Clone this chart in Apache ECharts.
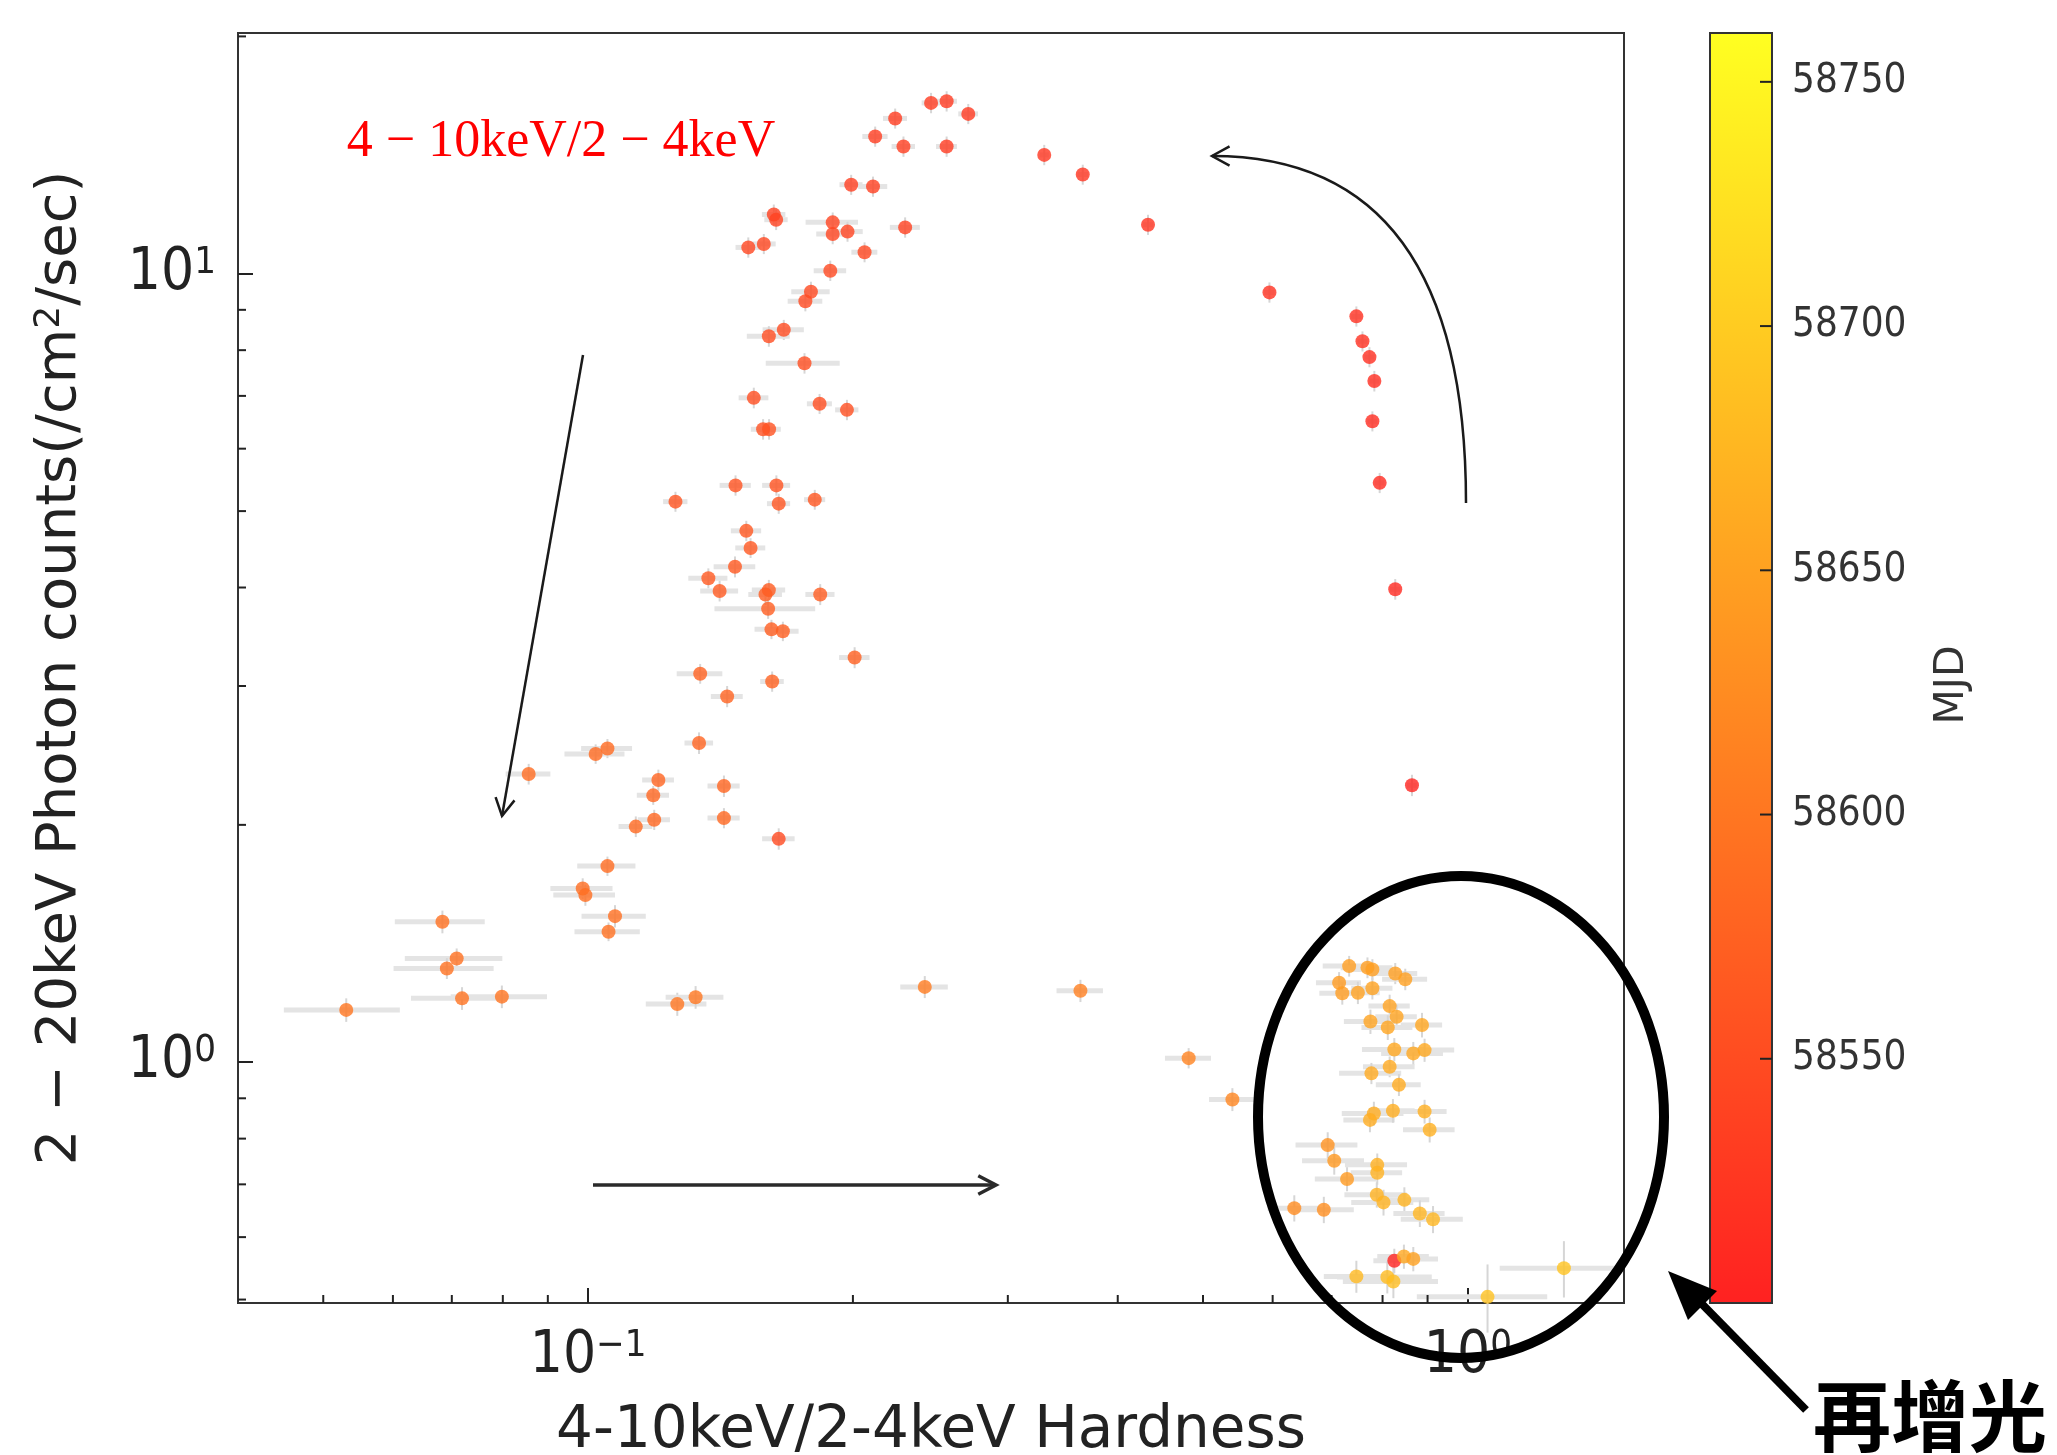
<!DOCTYPE html>
<html>
<head>
<meta charset="utf-8">
<script src="https://cdn.jsdelivr.net/npm/echarts@6.0.0/dist/echarts.min.js"></script>
<style>
  html, body { margin: 0; padding: 0; background: #fff; }
  #chart { width: 2057px; height: 1455px; }
</style>
</head>
<body>
<div id="chart"></div>
<script>
// ---- data (hardness ratio, photon counts, errors, MJD) ----
// order: rise in hard state, peak, soft decay, low soft, transition, re-brightening
const hardness = [
  0.864, 0.827, 0.794, 0.779, 0.783, 0.773, 0.759, 0.747, 0.595, 0.433, 0.365, 0.330,
  0.2705, 0.2556, 0.2454, 0.2556, 0.2234, 0.2120, 0.2283, 0.1991, 0.2108, 0.2293, 0.1626, 0.1636, 0.1897, 0.1972,
  0.1897, 0.1521, 0.1584, 0.2062, 0.1885, 0.1792, 0.1766, 0.1669, 0.1605, 0.1762, 0.1543, 0.1833, 0.1969, 0.1581, 0.1606,
  0.1471, 0.1637, 0.1257, 0.1647, 0.1810, 0.1513, 0.1530, 0.1469, 0.1370, 0.1411, 0.1605, 0.1591, 0.1836, 0.1602,
  0.1616, 0.1665, 0.2009, 0.1341, 0.1619, 0.1439, 0.1337, 0.1202, 0.1427, 0.1186, 0.1189, 0.1427, 0.1133, 0.1647,
  0.1052, 0.1020, 0.0856, 0.1052, 0.0986, 0.0993, 0.1073, 0.1055, 0.0683, 0.0709, 0.0691, 0.0719, 0.0798, 0.0531, 0.1263, 0.1325,
  0.2414, 0.3628, 0.4816, 0.540,
  0.733, 0.769, 0.779, 0.827, 0.849, 0.714, 0.720, 0.750, 0.779, 0.815, 0.830, 0.775, 0.811, 0.887, 0.825,
  0.867, 0.893, 0.815, 0.777, 0.835, 0.782, 0.774, 0.822, 0.893, 0.905, 0.693, 0.705, 0.789, 0.789, 0.729,
  0.788, 0.802, 0.847, 0.635, 0.686, 0.882, 0.913, 0.825, 0.846, 0.867, 0.747, 0.810, 0.823, 1.286, 1.053
];
const counts = [
  2.245, 3.98, 5.43, 6.50, 7.31, 7.84, 8.21, 8.83, 9.47, 11.54, 13.36, 14.15,
  15.95, 16.55, 16.47, 14.50, 15.74, 14.93, 14.50, 12.97, 12.90, 11.45, 11.89, 11.71, 11.62, 11.31,
  11.23, 10.80, 10.91, 10.65, 10.09, 9.49, 9.23, 8.49, 8.33, 7.70, 6.96, 6.84, 6.72, 6.35, 6.35,
  5.39, 5.39, 5.14, 5.11, 5.17, 4.72, 4.49, 4.25, 4.11, 3.96, 3.97, 3.92, 3.92, 3.76,
  3.54, 3.52, 3.26, 3.11, 3.04, 2.91, 2.54, 2.28, 2.24, 2.18, 2.03, 2.04, 1.99, 1.92,
  2.50, 2.46, 2.32, 1.773, 1.661, 1.629, 1.532, 1.464, 1.507, 1.354, 1.315, 1.205, 1.211, 1.165, 1.185, 1.209,
  1.246, 1.232, 1.012, 0.897,
  1.324, 1.318, 1.311, 1.296, 1.274, 1.261, 1.223, 1.225, 1.241, 1.178, 1.142, 1.126, 1.107, 1.115, 1.038,
  1.026, 1.036, 0.987, 0.968, 0.936, 0.861, 0.845, 0.868, 0.866, 0.821, 0.785, 0.750, 0.741, 0.724, 0.711,
  0.679, 0.664, 0.669, 0.653, 0.650, 0.643, 0.632, 0.560, 0.567, 0.563, 0.535, 0.534, 0.527, 0.548, 0.504
];
const hardnessErr = [
  0.011, 0.011, 0.010, 0.010, 0.010, 0.010, 0.010, 0.010, 0.008, 0.006, 0.005, 0.004,
  0.007, 0.007, 0.006, 0.007, 0.007, 0.007, 0.007, 0.006, 0.008, 0.009, 0.005, 0.005, 0.013, 0.008,
  0.008, 0.005, 0.005, 0.007, 0.008, 0.009, 0.008, 0.009, 0.009, 0.017, 0.006, 0.006, 0.006, 0.005, 0.005,
  0.006, 0.006, 0.004, 0.005, 0.005, 0.006, 0.006, 0.008, 0.007, 0.007, 0.007, 0.007, 0.007, 0.021,
  0.007, 0.007, 0.008, 0.008, 0.005, 0.006, 0.005, 0.005, 0.006, 0.005, 0.005, 0.006, 0.005, 0.007,
  0.007, 0.008, 0.005, 0.008, 0.008, 0.008, 0.009, 0.009, 0.008, 0.009, 0.009, 0.009, 0.010, 0.008, 0.010, 0.010,
  0.015, 0.022, 0.029, 0.032,
  0.049, 0.052, 0.042, 0.049, 0.050, 0.042, 0.042, 0.044, 0.042, 0.044, 0.045, 0.052, 0.054, 0.048, 0.067,
  0.070, 0.072, 0.055, 0.063, 0.049, 0.063, 0.052, 0.048, 0.053, 0.061, 0.056, 0.057, 0.064, 0.053, 0.059,
  0.064, 0.065, 0.057, 0.043, 0.056, 0.059, 0.074, 0.044, 0.057, 0.058, 0.061, 0.100, 0.102, 0.199, 0.178
];
const countsErr = [
  0.07, 0.12, 0.16, 0.19, 0.22, 0.23, 0.24, 0.26, 0.28, 0.34, 0.39, 0.42,
  0.47, 0.49, 0.49, 0.43, 0.46, 0.44, 0.43, 0.38, 0.38, 0.34, 0.35, 0.35, 0.34, 0.33,
  0.33, 0.32, 0.32, 0.31, 0.30, 0.28, 0.27, 0.25, 0.25, 0.23, 0.21, 0.20, 0.20, 0.19, 0.19,
  0.16, 0.16, 0.15, 0.15, 0.15, 0.14, 0.13, 0.13, 0.12, 0.12, 0.12, 0.12, 0.12, 0.11,
  0.10, 0.10, 0.10, 0.09, 0.09, 0.09, 0.08, 0.07, 0.07, 0.06, 0.06, 0.06, 0.06, 0.06,
  0.07, 0.07, 0.07, 0.05, 0.05, 0.05, 0.05, 0.04, 0.05, 0.04, 0.04, 0.04, 0.04, 0.04, 0.04, 0.04,
  0.04, 0.04, 0.03, 0.03,
  0.04, 0.04, 0.04, 0.04, 0.04, 0.04, 0.04, 0.04, 0.04, 0.04, 0.04, 0.04, 0.04, 0.04, 0.035,
  0.035, 0.035, 0.03, 0.03, 0.03, 0.03, 0.03, 0.03, 0.03, 0.03, 0.03, 0.03, 0.025, 0.025, 0.025,
  0.025, 0.025, 0.025, 0.025, 0.025, 0.025, 0.025, 0.02, 0.02, 0.02, 0.025, 0.025, 0.025, 0.045, 0.05
];
const mjd = [
  58506, 58509, 58511, 58513, 58514, 58515, 58516, 58517, 58519, 58521, 58523, 58525,
  58528, 58529, 58530, 58531, 58532, 58533, 58534, 58535, 58536, 58537, 58538, 58539, 58540, 58541,
  58542, 58543, 58544, 58545, 58546, 58547, 58548, 58549, 58550, 58551, 58552, 58553, 58554, 58555, 58556,
  58558, 58559, 58560, 58561, 58562, 58563, 58564, 58565, 58566, 58567, 58568, 58569, 58570, 58571,
  58572, 58573, 58574, 58575, 58576, 58577, 58578, 58579, 58580, 58581, 58582, 58583, 58584, 58548,
  58585, 58586, 58587, 58588, 58589, 58590, 58591, 58592, 58593, 58594, 58595, 58596, 58597, 58598, 58600, 58601,
  58606, 58610, 58615, 58618,
  58645, 58646, 58647, 58648, 58649, 58643, 58644, 58650, 58651, 58652, 58653, 58654, 58655, 58656, 58657,
  58658, 58659, 58660, 58661, 58662, 58663, 58664, 58665, 58666, 58667, 58632, 58640, 58668, 58669, 58642,
  58670, 58671, 58672, 58625, 58628, 58673, 58675, 58502, 58658, 58650, 58678, 58682, 58684, 58690, 58688
];

// axis ranges and tick values
const xRange = [0.04, 1.505];
const yRange = [0.495, 20.2];
const mjdRange = [58500, 58760];
const xMinorTicks = [0.05, 0.06, 0.07, 0.08, 0.09, 0.2, 0.3, 0.4, 0.5, 0.6, 0.7, 0.8, 0.9];
const yMinorTicks = [0.5, 0.6, 0.7, 0.8, 0.9, 2, 3, 4, 5, 6, 7, 8, 9, 20];
const cbarTicks = [58550, 58600, 58650, 58700, 58750];
const cmap = ['#ff2121', '#ffff21'];   // autumn colormap (red -> yellow)

const FONT = '"DejaVu Sans", sans-serif';
const FONT_C = '"DejaVu Sans Condensed", "DejaVu Sans", sans-serif';
const INK = '#222';

const chart = echarts.init(document.getElementById('chart'));

// 10^n style labels for the log axes
function powLabel(v) {
  const e = Math.round(Math.log10(v));
  return '{b|10}{s|' + (e < 0 ? '\u2212' + (-e) : e) + '}';
}
const powRich = {
  b: { fontSize: 58, fontFamily: FONT_C, color: INK, lineHeight: 60 },
  s: { fontSize: 38, fontFamily: FONT_C, color: INK, lineHeight: 38, verticalAlign: 'top' }
};

// arrow head as an open "->" polyline
function headPoints(from, tip, len, spread) {
  const a = Math.atan2(tip[1] - from[1], tip[0] - from[0]);
  return [
    [tip[0] - len * Math.cos(a - spread), tip[1] - len * Math.sin(a - spread)],
    tip,
    [tip[0] - len * Math.cos(a + spread), tip[1] - len * Math.sin(a + spread)]
  ];
}

const scatterData = hardness.map((h, i) => [h, counts[i], mjd[i]]);
const errData = hardness.map((h, i) => [h, counts[i], hardnessErr[i], countsErr[i]]);

const option = {
  animation: false,
  backgroundColor: '#fff',
  grid: [
    { left: 238, top: 33, width: 1386, height: 1270, show: true, borderColor: '#333', borderWidth: 2, outerBoundsMode: 'none' },
    { left: 1710, top: 33, width: 62, height: 1270, show: false, outerBoundsMode: 'none' }
  ],
  xAxis: [
    {
      type: 'log', logBase: 10, gridIndex: 0, min: xRange[0], max: xRange[1],
      axisLine: { show: true, onZero: false, lineStyle: { color: '#333', width: 2 } },
      axisTick: { show: true, inside: true, length: 15, lineStyle: { color: INK, width: 2 } },
      axisLabel: { formatter: powLabel, rich: powRich, margin: 24, showMinLabel: false, showMaxLabel: false },
      splitLine: { show: false },
      name: '4-10keV/2-4keV Hardness', nameLocation: 'middle', nameGap: 100,
      nameTextStyle: { fontSize: 58, fontFamily: FONT, color: INK }
    },
    {
      type: 'value', gridIndex: 1, min: 0, max: 1, show: false,
      axisLine: { show: false, onZero: false }
    }
  ],
  yAxis: [
    {
      type: 'log', logBase: 10, gridIndex: 0, min: yRange[0], max: yRange[1],
      axisLine: { show: true, onZero: false, lineStyle: { color: '#333', width: 2 } },
      axisTick: { show: true, inside: true, length: 15, lineStyle: { color: INK, width: 2 } },
      axisLabel: { formatter: powLabel, rich: powRich, margin: 22, showMinLabel: false, showMaxLabel: false },
      splitLine: { show: false },
      name: '2 \u2212 20keV Photon counts(/cm{s|2}/sec)', nameLocation: 'middle', nameGap: 150, nameRotate: 90,
      nameTextStyle: {
        fontSize: 56, fontFamily: FONT, color: INK,
        rich: { s: { fontSize: 36, fontFamily: FONT, color: INK, verticalAlign: 'top', lineHeight: 40 } }
      }
    },
    {
      type: 'value', gridIndex: 1, min: mjdRange[0], max: mjdRange[1], interval: 50, position: 'right',
      axisLine: { show: false, onZero: false },
      axisTick: { show: false },
      axisLabel: {
        margin: 20, fontSize: 40, fontFamily: FONT_C, color: '#333',
        showMinLabel: false, showMaxLabel: false, formatter: v => String(v)
      },
      splitLine: { show: false }
    }
  ],
  visualMap: {
    type: 'continuous', show: false, seriesIndex: 1, dimension: 2,
    min: mjdRange[0], max: mjdRange[1], inRange: { color: cmap }
  },
  series: [
    {
      // x / y error bars
      type: 'custom', xAxisIndex: 0, yAxisIndex: 0, silent: true, z: 2,
      data: errData, encode: { x: 0, y: 1 },
      renderItem: function (params, api) {
        const x = api.value(0), y = api.value(1), xe = api.value(2), ye = api.value(3);
        const l = api.coord([x - xe, y]), r = api.coord([x + xe, y]);
        const b = api.coord([x, y - ye]), t = api.coord([x, y + ye]);
        return {
          type: 'group',
          children: [
            { type: 'line', shape: { x1: l[0], y1: l[1], x2: r[0], y2: r[1] }, style: { stroke: '#e4e4e4', lineWidth: 5 } },
            { type: 'line', shape: { x1: b[0], y1: b[1], x2: t[0], y2: t[1] }, style: { stroke: '#d6d6d6', lineWidth: 2 } }
          ]
        };
      }
    },
    {
      type: 'scatter', xAxisIndex: 0, yAxisIndex: 0, z: 3,
      symbol: 'circle', symbolSize: 14,
      data: scatterData
    },
    {
      // minor ticks on the log x axis (2..9 x 10^n)
      type: 'custom', xAxisIndex: 0, yAxisIndex: 0, silent: true, clip: false, z: 4,
      data: xMinorTicks.map(v => [v, yRange[0]]), encode: { x: 0, y: 1 },
      renderItem: function (params, api) {
        const p = api.coord([api.value(0), api.value(1)]);
        const yb = params.coordSys.y + params.coordSys.height;
        return { type: 'line', shape: { x1: p[0], y1: yb, x2: p[0], y2: yb - 8 }, style: { stroke: INK, lineWidth: 2 } };
      }
    },
    {
      // minor ticks on the log y axis
      type: 'custom', xAxisIndex: 0, yAxisIndex: 0, silent: true, clip: false, z: 4,
      data: yMinorTicks.map(v => [xRange[0], v]), encode: { x: 0, y: 1 },
      renderItem: function (params, api) {
        const p = api.coord([api.value(0), api.value(1)]);
        const xl = params.coordSys.x;
        return { type: 'line', shape: { x1: xl, y1: p[1], x2: xl + 8, y2: p[1] }, style: { stroke: INK, lineWidth: 2 } };
      }
    },
    {
      // colour bar with its inside ticks on the right edge
      type: 'custom', xAxisIndex: 1, yAxisIndex: 1, silent: true, clip: false, z: 1,
      data: [[0, mjdRange[0], 1, mjdRange[1]]], encode: { x: [0, 2], y: [1, 3] },
      renderItem: function (params, api) {
        const p0 = api.coord([api.value(0), api.value(3)]);
        const p1 = api.coord([api.value(2), api.value(1)]);
        const x0 = Math.min(p0[0], p1[0]), x1 = Math.max(p0[0], p1[0]);
        const y0 = Math.min(p0[1], p1[1]), y1 = Math.max(p0[1], p1[1]);
        const children = [{
          type: 'rect',
          shape: { x: x0, y: y0, width: x1 - x0, height: y1 - y0 },
          style: {
            fill: new echarts.graphic.LinearGradient(0, 0, 0, 1, [
              { offset: 0, color: cmap[1] }, { offset: 1, color: cmap[0] }
            ]),
            stroke: '#333', lineWidth: 2
          }
        }];
        cbarTicks.forEach(v => {
          const ty = api.coord([api.value(0), v])[1];
          children.push({ type: 'line', shape: { x1: x1 - 12, y1: ty, x2: x1, y2: ty }, style: { stroke: INK, lineWidth: 2 } });
        });
        return { type: 'group', children: children };
      }
    }
  ],
  graphic: {
    elements: [
      {
        type: 'text', x: 1952, y: 685, rotation: Math.PI / 2, z: 100,
        style: { text: 'MJD', fontSize: 41, fontFamily: FONT, fill: '#333', align: 'center', verticalAlign: 'middle' }
      },
      {
        type: 'text', x: 561, y: 142, z: 100,
        style: { text: '4 \u2212 10keV/2 \u2212 4keV', fontSize: 52, fontFamily: '"Liberation Serif", serif', fill: '#ff0000', align: 'center', verticalAlign: 'middle' }
      },
      // decay arrow
      { type: 'line', z: 100, shape: { x1: 583, y1: 355, x2: 502, y2: 816 }, style: { stroke: '#1a1a1a', lineWidth: 2.5 } },
      { type: 'polyline', z: 100, shape: { points: headPoints([583, 355], [502, 816], 20, 0.5) }, style: { stroke: '#1a1a1a', lineWidth: 2.5, fill: 'none' } },
      // horizontal arrow
      { type: 'line', z: 100, shape: { x1: 593, y1: 1185, x2: 996, y2: 1185 }, style: { stroke: '#2a2a2a', lineWidth: 3.5 } },
      { type: 'polyline', z: 100, shape: { points: headPoints([593, 1185], [996, 1185], 20, 0.48) }, style: { stroke: '#2a2a2a', lineWidth: 3.5, fill: 'none' } },
      // rising arc
      { type: 'bezierCurve', z: 100, shape: { x1: 1466, y1: 503, x2: 1212, y2: 156, cpx1: 1466, cpy1: 156 }, style: { stroke: '#1a1a1a', lineWidth: 2.5, fill: 'none' } },
      { type: 'polyline', z: 100, shape: { points: headPoints([1466, 156], [1212, 156], 20, 0.5) }, style: { stroke: '#1a1a1a', lineWidth: 2.5, fill: 'none' } },
      // re-brightening ellipse and pointer
      { type: 'ellipse', z: 100, shape: { cx: 1461, cy: 1117, rx: 203, ry: 241 }, style: { stroke: '#000', lineWidth: 10, fill: 'none' } },
      { type: 'line', z: 100, shape: { x1: 1806, y1: 1410, x2: 1700, y2: 1302 }, style: { stroke: '#000', lineWidth: 8 } },
      { type: 'polygon', z: 100, shape: { points: [[1668, 1271], [1717, 1291], [1688, 1320]] }, style: { fill: '#000' } },
      {
        type: 'text', x: 1930, y: 1416, z: 100,
        style: { text: '再增光', fontSize: 78, fontWeight: 'bold', fontFamily: '"Noto Sans CJK SC", sans-serif', fill: '#000', align: 'center', verticalAlign: 'middle' }
      }
    ]
  }
};

chart.setOption(option);
</script>
</body>
</html>
